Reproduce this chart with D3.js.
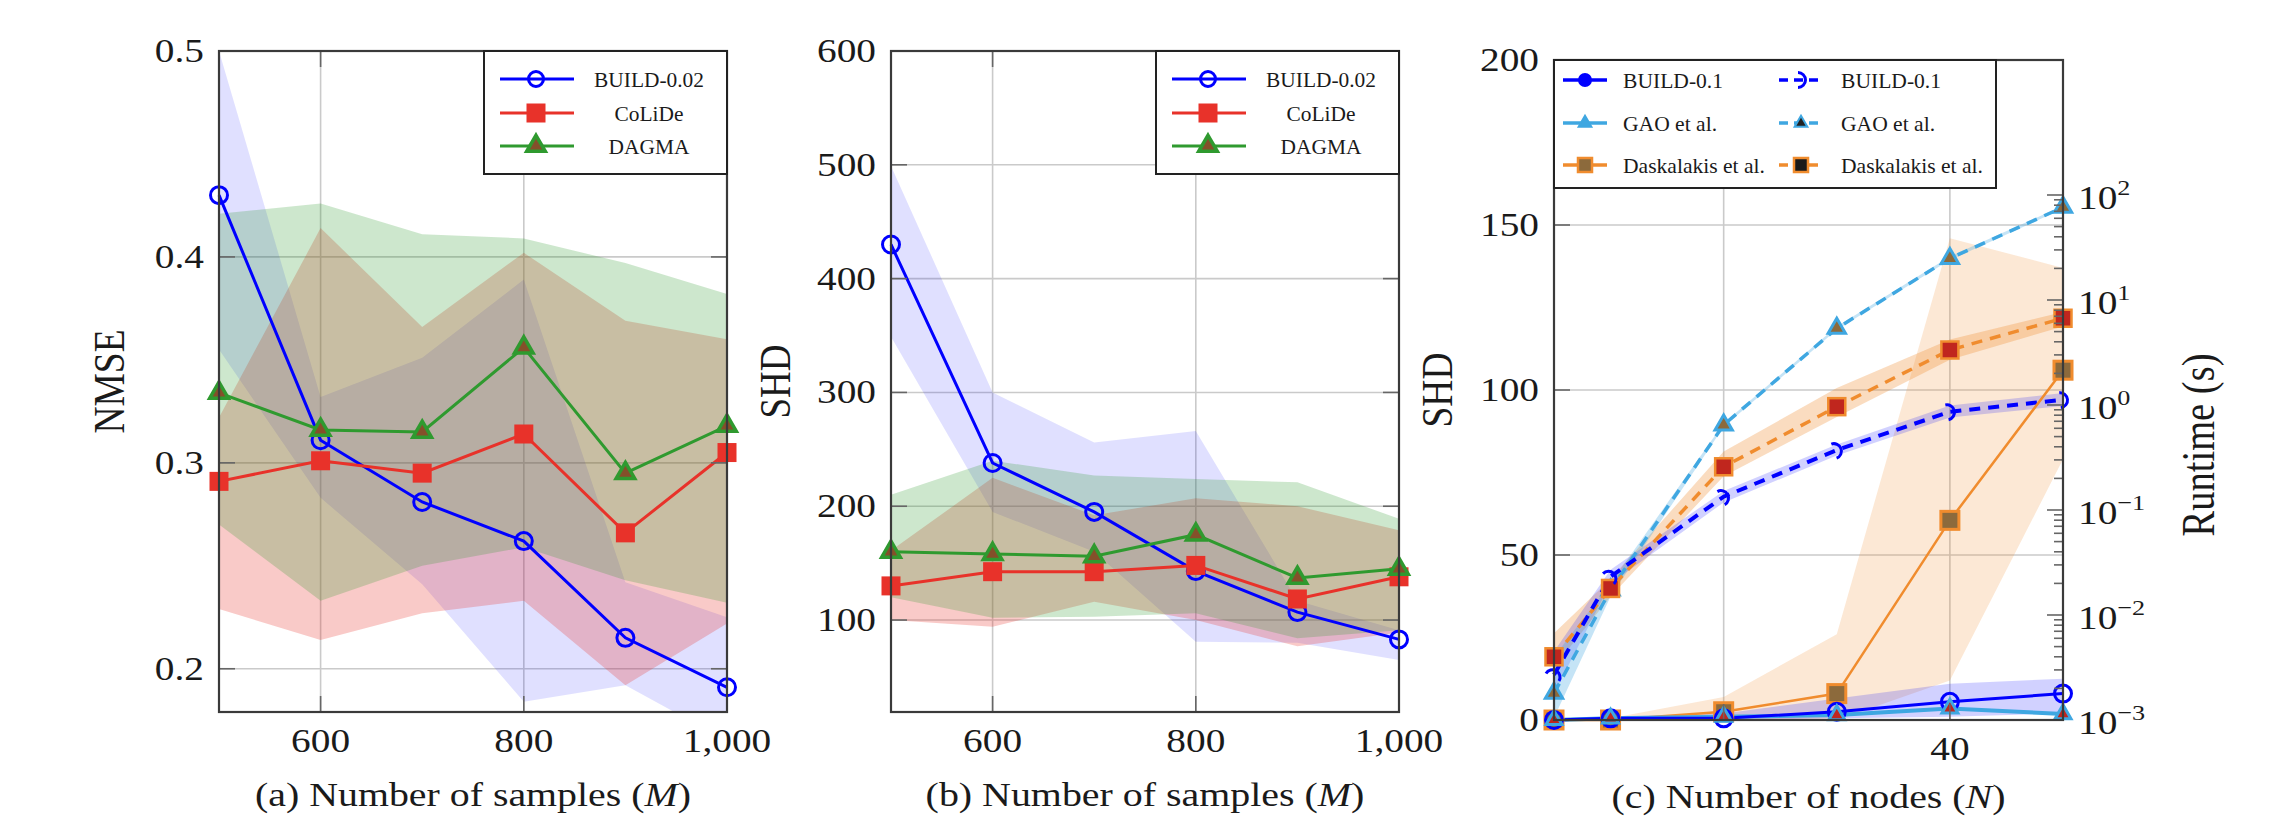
<!DOCTYPE html>
<html>
<head>
<meta charset="utf-8">
<script src="https://cdn.jsdelivr.net/npm/d3@7/dist/d3.min.js"></script>
<style>
html,body{margin:0;padding:0;background:#fff;}
svg{display:block;}
svg text{font-family:'Liberation Serif','Times New Roman',Times,serif;}
</style>
</head>
<body>
<svg id="chart" width="2285" height="821"></svg>
<script>
// ================= DATA =================
// (a) NMSE vs number of samples
const samplesM = [500, 600, 700, 800, 900, 1000];
const nmseBuild   = [0.430, 0.311, 0.281, 0.262, 0.215, 0.191];
const nmseBuildLo = [0.355, 0.283, 0.241, 0.184, 0.192, 0.165];
const nmseBuildHi = [0.500, 0.332, 0.351, 0.389, 0.242, 0.225];
const nmseColide   = [0.291, 0.301, 0.295, 0.314, 0.266, 0.305];
const nmseColideLo = [0.229, 0.214, 0.227, 0.233, 0.192, 0.222];
const nmseColideHi = [0.322, 0.414, 0.366, 0.402, 0.369, 0.360];
const nmseDagma   = [0.334, 0.316, 0.315, 0.356, 0.295, 0.318];
const nmseDagmaLo = [0.270, 0.233, 0.250, 0.259, 0.243, 0.232];
const nmseDagmaHi = [0.421, 0.426, 0.411, 0.409, 0.397, 0.382];
const nmseTicks = [0.2, 0.3, 0.4, 0.5];

// (b) SHD vs number of samples
const shdBuild   = [430, 238, 195, 143, 107, 83];
const shdBuildLo = [349, 195, 160, 81, 80, 65];
const shdBuildHi = [499, 300, 256, 266, 117, 91];
const shdColide   = [130, 142.5, 142.5, 148, 118.5, 138];
const shdColideLo = [100, 94, 116, 100, 77, 89];
const shdColideHi = [161, 225, 192, 207, 200, 179];
const shdDagma   = [160, 158, 156, 175, 137, 145];
const shdDagmaLo = [120, 102, 103, 106, 84, 91];
const shdDagmaHi = [210, 240, 227, 224, 221, 189];
const shdTicksB = [100, 200, 300, 400, 500, 600];
const sampleTicks = [600, 800, 1000];
const sampleLegend = ['BUILD-0.02', 'CoLiDe', 'DAGMA'];

// (c) SHD (solid, left axis) and runtime (dashed, right log axis) vs number of nodes
const nodesN = [5, 10, 20, 30, 40, 50];
const shdBuildN   = [0, 0.5, 0.5, 2.5, 5.5, 8];
const shdBuildNLo = [0, 0, 0, 0.5, 1, 2];
const shdBuildNHi = [0.5, 1, 2, 6.5, 11, 12.5];
const shdGaoN  = [0, 0.5, 1, 1.5, 3.5, 1.8];
const shdDaskN   = [0, 0, 2.5, 8, 60.5, 106];
const shdDaskNLo = [0, 0, 0, 0, 12, 79];
const shdDaskNHi = [0, 0.5, 7, 26, 146, 137];
const rtBuild   = [0.0027, 0.0232, 0.134, 0.372, 0.863, 1.12];
const rtBuildLo = [0.0018, 0.0200, 0.118, 0.330, 0.760, 0.98];
const rtBuildHi = [0.0045, 0.0270, 0.152, 0.420, 0.990, 1.30];
const rtGao   = [0.0018, 0.0173, 0.646, 5.37, 24.9, 76.4];
const rtGaoLo = [0.00105, 0.0150, 0.62, 5.2, 24, 74];
const rtGaoHi = [0.0040, 0.0200, 0.67, 5.6, 26, 79];
const rtDask   = [0.0040, 0.0179, 0.258, 0.964, 3.34, 6.70];
const rtDaskLo = [0.0032, 0.0150, 0.21, 0.77, 2.7, 5.6];
const rtDaskHi = [0.0067, 0.0220, 0.36, 1.45, 4.2, 7.7];
const nodeTicks = [20, 40];
const shdTicksC = [0, 50, 100, 150, 200];
const runtimeTicks = [1e-3, 1e-2, 1e-1, 1e0, 1e1, 1e2];
const nodeLegend = ['BUILD-0.1', 'GAO et al.', 'Daskalakis et al.'];

// ================= STYLE =================
const svg = d3.select('#chart');
const FONT = "'Liberation Serif','Times New Roman',Times,serif";
const INK = '#1a1a1a', GRID = '#cacaca', FRAME = '#3a3a3a', TICK = '#666';
const C_BLUE = '#0000ff', C_RED = '#e8322a', C_GREEN = '#2f9a2f', C_TRIFILL = '#84502a';
const C_LBLUE = '#3fa7e1', C_ORANGE = '#f08c2e', C_BROWN = '#8c6a3c', C_DRED = '#c0261e';

// measure the natural width of a string (font-independent fitting to the reference)
function measure(str, size) {
  const t = svg.append('text').attr('font-family', FONT).attr('font-size', size).text(str);
  const w = t.node().getBBox().width;
  t.remove();
  return w;
}
const TICK_SIZE = 33;
const K_TICK = 59 / measure('600', TICK_SIZE);            // "600" is ~59px wide in the reference
const K_LEG = 110 / measure('BUILD-0.02', 22);             // legend of (a),(b)
const K_LEGC = 142 / measure('Daskalakis et al.', 21);     // legend of (c)

function txt(parent, x, y, parts, o = {}) {
  let size = o.size || TICK_SIZE;
  const t = parent.append('text')
    .attr('text-anchor', o.anchor || 'middle')
    .attr('font-family', FONT).attr('font-size', size).attr('fill', INK);
  if (typeof parts === 'string') parts = [{ t: parts }];
  parts.forEach(p => {
    const s = t.append('tspan').text(p.t);
    if (p.italic) s.attr('font-style', 'italic');
    if (p.sup) s.attr('font-size', Math.round(size * 0.68)).attr('dy', -size * 0.42);
  });
  let k = o.k == null ? K_TICK : o.k;
  if (o.fitW) {
    const w = t.node().getBBox().width;
    if (o.rotate) { size = size * o.fitW / w; t.attr('font-size', size); }
    else k = o.fitW / w;
  }
  let tr = `translate(${x},${y}) scale(${k},1)`;
  if (o.rotate) tr += ` rotate(${o.rotate})`;
  t.attr('transform', tr);
  return t;
}

function marker(g, type, cx, cy, o) {
  const sw = o.sw == null ? 3 : o.sw;
  if (type === 'circle') {
    g.append('circle').attr('cx', cx).attr('cy', cy).attr('r', o.r || 8)
      .attr('fill', o.fill || 'none').attr('stroke', o.stroke).attr('stroke-width', sw);
  } else if (type === 'square') {
    const s = o.s || 18;
    g.append('rect').attr('x', cx - s / 2).attr('y', cy - s / 2).attr('width', s).attr('height', s)
      .attr('fill', o.fill).attr('stroke', o.stroke || 'none').attr('stroke-width', sw);
  } else if (type === 'triangle') {
    g.append('path').attr('d', d3.symbol(d3.symbolTriangle, o.a || 190)())
      .attr('transform', `translate(${cx},${cy})`)
      .attr('fill', o.fill).attr('stroke', o.stroke || 'none').attr('stroke-width', sw)
      .attr('stroke-linejoin', 'miter');
  } else if (type === 'arc') {
    g.append('path').attr('d', 'M -3,-7.5 A 7.5 7.5 0 0 1 -3 7.5')
      .attr('transform', `translate(${cx},${cy}) rotate(${o.angle || 0})`)
      .attr('fill', 'none').attr('stroke', o.stroke).attr('stroke-width', sw);
  }
}

function clipRect(id, p) {
  svg.append('clipPath').attr('id', id).append('rect')
    .attr('x', p.left).attr('y', p.top).attr('width', p.right - p.left).attr('height', p.bottom - p.top);
}

function frame(g, p) {
  g.append('rect').attr('x', p.left).attr('y', p.top).attr('width', p.right - p.left)
    .attr('height', p.bottom - p.top).attr('fill', 'none').attr('stroke', FRAME).attr('stroke-width', 2.2);
}

// ================= PANELS (a) and (b) =================
function samplePanel(p) {
  const g = svg.append('g');
  const x = d3.scaleLinear().domain([500, 1000]).range([p.left, p.right]);
  const y = d3.scaleLinear().domain(p.yDomain).range([p.bottom, p.top]);
  clipRect('clip' + p.id, p);

  g.selectAll(null).data(sampleTicks).join('line')
    .attr('x1', d => x(d)).attr('x2', d => x(d)).attr('y1', p.top).attr('y2', p.bottom)
    .attr('stroke', GRID).attr('stroke-width', 1.6);
  g.selectAll(null).data(p.yTicks).join('line')
    .attr('x1', p.left).attr('x2', p.right).attr('y1', d => y(d)).attr('y2', d => y(d))
    .attr('stroke', GRID).attr('stroke-width', 1.6);

  const series = p.series;
  const bands = g.append('g').attr('clip-path', `url(#clip${p.id})`);
  series.forEach(s => {
    const area = d3.area().x((d, i) => x(samplesM[i])).y0((d, i) => y(s.lo[i])).y1((d, i) => y(s.hi[i]));
    bands.append('path').attr('d', area(s.vals)).attr('fill', s.color).attr('fill-opacity', s.bandOp);
  });
  series.forEach(s => {
    const line = d3.line().x((d, i) => x(samplesM[i])).y(d => y(d));
    g.append('path').attr('d', line(s.vals)).attr('fill', 'none').attr('stroke', s.color).attr('stroke-width', 3);
    s.vals.forEach((v, i) => marker(g, s.marker, x(samplesM[i]), y(v), s.mk));
  });

  const tk = g.append('g').attr('stroke', TICK).attr('stroke-width', 1.6);
  p.yTicks.forEach(v => {
    tk.append('line').attr('x1', p.left).attr('x2', p.left + 16).attr('y1', y(v)).attr('y2', y(v));
    tk.append('line').attr('x1', p.right - 16).attr('x2', p.right).attr('y1', y(v)).attr('y2', y(v));
  });
  sampleTicks.forEach(v => {
    tk.append('line').attr('x1', x(v)).attr('x2', x(v)).attr('y1', p.bottom).attr('y2', p.bottom - 16);
    tk.append('line').attr('x1', x(v)).attr('x2', x(v)).attr('y1', p.top).attr('y2', p.top + 16);
  });
  frame(g, p);

  p.yTicks.forEach(v => txt(g, p.left - 15, y(v) + 11, p.yFmt(v), { anchor: 'end' }));
  sampleTicks.forEach(v => txt(g, x(v), p.bottom + 40, d3.format(',')(v)));

  txt(g, p.yLabelX, (p.top + p.bottom) / 2, p.yLabel, { size: 37, k: 1.2, rotate: -90, fitW: p.yLabelLen });
  txt(g, (p.left + p.right) / 2, 806,
    [{ t: p.cap + ' Number of samples (' }, { t: 'M', italic: true }, { t: ')' }], { size: 33, fitW: p.capW });

  const lg = g.append('g');
  lg.append('rect').attr('x', p.legX0).attr('y', p.top).attr('width', p.right - p.legX0).attr('height', 123)
    .attr('fill', '#fff').attr('stroke', '#222').attr('stroke-width', 2);
  const rows = [p.top + 28, p.top + 62, p.top + 95];
  series.forEach((s, i) => {
    const lx0 = p.legX0 + 16, lx1 = p.legX0 + 90, mx = p.legX0 + 52;
    lg.append('line').attr('x1', lx0).attr('x2', lx1).attr('y1', rows[i]).attr('y2', rows[i])
      .attr('stroke', s.color).attr('stroke-width', 3);
    marker(lg, s.marker, mx, rows[i], s.mkLeg);
    txt(lg, p.legX0 + 165, rows[i] + 8, sampleLegend[i], { size: 22, k: K_LEG });
  });
}

const seriesA = [
  { vals: nmseBuild, lo: nmseBuildLo, hi: nmseBuildHi, color: C_BLUE, bandOp: 0.12, marker: 'circle',
    mk: { r: 8.5, stroke: C_BLUE, sw: 3 }, mkLeg: { r: 7.5, stroke: C_BLUE, sw: 3 } },
  { vals: nmseColide, lo: nmseColideLo, hi: nmseColideHi, color: C_RED, bandOp: 0.26, marker: 'square',
    mk: { s: 19, fill: C_RED }, mkLeg: { s: 19, fill: C_RED } },
  { vals: nmseDagma, lo: nmseDagmaLo, hi: nmseDagmaHi, color: C_GREEN, bandOp: 0.24, marker: 'triangle',
    mk: { a: 150, fill: C_TRIFILL, stroke: C_GREEN, sw: 3.5 }, mkLeg: { a: 150, fill: C_TRIFILL, stroke: C_GREEN, sw: 3.5 } }
];
const seriesB = [
  { ...seriesA[0], vals: shdBuild, lo: shdBuildLo, hi: shdBuildHi },
  { ...seriesA[1], vals: shdColide, lo: shdColideLo, hi: shdColideHi },
  { ...seriesA[2], vals: shdDagma, lo: shdDagmaLo, hi: shdDagmaHi }
];

samplePanel({ id: 'a', left: 219, right: 727, top: 51, bottom: 712, yDomain: [0.179, 0.5],
  yTicks: nmseTicks, yFmt: d3.format('.1f'), yLabel: 'NMSE', yLabelX: 124, yLabelLen: 104, cap: '(a)', capW: 436,
  legX0: 484, series: seriesA });
samplePanel({ id: 'b', left: 891, right: 1399, top: 51, bottom: 712, yDomain: [19.2, 600],
  yTicks: shdTicksB, yFmt: d3.format('d'), yLabel: 'SHD', yLabelX: 790, yLabelLen: 74, cap: '(b)', capW: 439,
  legX0: 1156, series: seriesB });

// ================= PANEL (c) =================
(function () {
  const p = { id: 'c', left: 1554, right: 2063, top: 60, bottom: 720 };
  const g = svg.append('g');
  const x = d3.scaleLinear().domain([5, 50]).range([p.left, p.right]);
  const yL = d3.scaleLinear().domain([0, 200]).range([p.bottom, p.top]);
  const yR = d3.scaleLog().domain([1e-3, Math.pow(10, 3.2857)]).range([p.bottom, p.top]);
  clipRect('clipc', p);

  g.selectAll(null).data(nodeTicks).join('line')
    .attr('x1', d => x(d)).attr('x2', d => x(d)).attr('y1', p.top).attr('y2', p.bottom)
    .attr('stroke', GRID).attr('stroke-width', 1.6);
  g.selectAll(null).data(shdTicksC.slice(1, -1)).join('line')
    .attr('x1', p.left).attr('x2', p.right).attr('y1', d => yL(d)).attr('y2', d => yL(d))
    .attr('stroke', GRID).attr('stroke-width', 1.6);

  const bands = g.append('g').attr('clip-path', 'url(#clipc)');
  const band = (lo, hi, sc, color, op) => {
    const area = d3.area().x((d, i) => x(nodesN[i])).y0((d, i) => sc(lo[i])).y1((d, i) => sc(hi[i]));
    bands.append('path').attr('d', area(lo)).attr('fill', color).attr('fill-opacity', op);
  };
  band(shdDaskNLo, shdDaskNHi, yL, C_ORANGE, 0.2);
  band(rtDaskLo, rtDaskHi, yR, C_ORANGE, 0.3);
  band(rtBuildLo, rtBuildHi, yR, C_BLUE, 0.18);
  band(rtGaoLo, rtGaoHi, yR, C_LBLUE, 0.3);
  band(shdBuildNLo, shdBuildNHi, yL, C_BLUE, 0.18);

  const lineOf = (vals, sc, color, w, dash) => {
    const line = d3.line().x((d, i) => x(nodesN[i])).y(d => sc(d));
    const pth = g.append('path').attr('d', line(vals)).attr('fill', 'none').attr('stroke', color).attr('stroke-width', w);
    if (dash) pth.attr('stroke-dasharray', dash);
  };
  lineOf(rtGao, yR, C_LBLUE, 3.5, '11,8');
  lineOf(rtDask, yR, C_ORANGE, 3.5, '11,8');
  lineOf(rtBuild, yR, C_BLUE, 4, '11,8');
  lineOf(shdDaskN, yL, C_ORANGE, 2.5, null);
  lineOf(shdGaoN, yL, C_LBLUE, 4, null);
  lineOf(shdBuildN, yL, C_BLUE, 3, null);

  rtGao.forEach((v, i) => marker(g, 'triangle', x(nodesN[i]), yR(v), { a: 130, fill: C_BROWN, stroke: C_LBLUE, sw: 3 }));
  rtDask.forEach((v, i) => marker(g, 'square', x(nodesN[i]), yR(v), { s: 17, fill: C_DRED, stroke: C_ORANGE, sw: 2.5 }));
  rtBuild.forEach((v, i) => {
    const i0 = Math.max(0, i - 1), i1 = Math.min(nodesN.length - 1, i + 1);
    const ang = Math.atan2(yR(rtBuild[i1]) - yR(rtBuild[i0]), x(nodesN[i1]) - x(nodesN[i0])) * 180 / Math.PI;
    marker(g, 'arc', x(nodesN[i]), yR(v), { stroke: C_BLUE, sw: 3, angle: ang });
  });
  shdDaskN.forEach((v, i) => marker(g, 'square', x(nodesN[i]), yL(v), { s: 18, fill: C_BROWN, stroke: C_ORANGE, sw: 3 }));
  shdBuildN.forEach((v, i) => marker(g, 'circle', x(nodesN[i]), yL(v), { r: 8.5, stroke: C_BLUE, sw: 3 }));
  shdGaoN.forEach((v, i) => marker(g, 'triangle', x(nodesN[i]), yL(v), { a: 110, fill: C_DRED, stroke: C_LBLUE, sw: 3 }));

  const tk = g.append('g').attr('stroke', TICK).attr('stroke-width', 1.6);
  shdTicksC.forEach(v => tk.append('line').attr('x1', p.left).attr('x2', p.left + 16).attr('y1', yL(v)).attr('y2', yL(v)));
  nodeTicks.forEach(v => {
    tk.append('line').attr('x1', x(v)).attr('x2', x(v)).attr('y1', p.bottom).attr('y2', p.bottom - 16);
    tk.append('line').attr('x1', x(v)).attr('x2', x(v)).attr('y1', p.top).attr('y2', p.top + 16);
  });
  for (let e = -3; e <= 2; e++) {
    const v = Math.pow(10, e);
    tk.append('line').attr('x1', p.right - 16).attr('x2', p.right).attr('y1', yR(v)).attr('y2', yR(v));
    if (e < 2) for (let m = 2; m <= 9; m++) {
      const vm = m * v;
      tk.append('line').attr('x1', p.right - 9).attr('x2', p.right).attr('y1', yR(vm)).attr('y2', yR(vm));
    }
  }
  frame(g, p);

  shdTicksC.forEach(v => txt(g, p.left - 15, yL(v) + 11, d3.format('d')(v), { anchor: 'end' }));
  nodeTicks.forEach(v => txt(g, x(v), p.bottom + 40, d3.format('d')(v)));
  runtimeTicks.forEach(v => {
    const e = Math.round(Math.log10(v));
    txt(g, p.right + 15, yR(v) + 14, [{ t: '10' }, { t: e < 0 ? '\u2212' + (-e) : String(e), sup: true }], { anchor: 'start' });
  });

  txt(g, 1452, (p.top + p.bottom) / 2, 'SHD', { size: 37, k: 1.2, rotate: -90, fitW: 75 });
  txt(g, 2214, 445, 'Runtime (s)', { size: 37, k: 1.2, rotate: -90, fitW: 183 });
  txt(g, (p.left + p.right) / 2, 808,
    [{ t: '(c) Number of nodes (' }, { t: 'N', italic: true }, { t: ')' }], { size: 33, fitW: 394 });

  const lg = g.append('g');
  lg.append('rect').attr('x', p.left).attr('y', p.top).attr('width', 1996 - p.left).attr('height', 128)
    .attr('fill', '#fff').attr('stroke', '#222').attr('stroke-width', 2);
  const rows = [p.top + 20, p.top + 63, p.top + 105];
  const cols = [{ l0: 1563, l1: 1607, m: 1585, t: 1623, dash: null }, { l0: 1779, l1: 1823, m: 1801, t: 1841, dash: '9,6' }];
  const legColors = [C_BLUE, C_LBLUE, C_ORANGE];
  cols.forEach((c, ci) => {
    legColors.forEach((col, ri) => {
      const ln = lg.append('line').attr('x1', c.l0).attr('x2', c.l1).attr('y1', rows[ri]).attr('y2', rows[ri])
        .attr('stroke', col).attr('stroke-width', 3.5);
      if (c.dash) ln.attr('stroke-dasharray', c.dash);
      txt(lg, c.t, rows[ri] + 8, nodeLegend[ri], { size: 21, k: K_LEGC, anchor: 'start' });
    });
    if (ci === 0) {
      marker(lg, 'circle', c.m, rows[0], { r: 6, fill: C_BLUE, stroke: C_BLUE, sw: 2 });
      marker(lg, 'triangle', c.m, rows[1], { a: 70, fill: C_LBLUE, stroke: C_LBLUE, sw: 2 });
      marker(lg, 'square', c.m, rows[2], { s: 14, fill: C_BROWN, stroke: C_ORANGE, sw: 2.5 });
    } else {
      marker(lg, 'arc', c.m, rows[0], { stroke: C_BLUE, sw: 3, angle: 0 });
      marker(lg, 'triangle', c.m, rows[1], { a: 70, fill: '#222', stroke: C_LBLUE, sw: 2 });
      marker(lg, 'square', c.m, rows[2], { s: 14, fill: '#1a1a1a', stroke: C_ORANGE, sw: 2.5 });
    }
  });
})();
</script>
</body>
</html>
